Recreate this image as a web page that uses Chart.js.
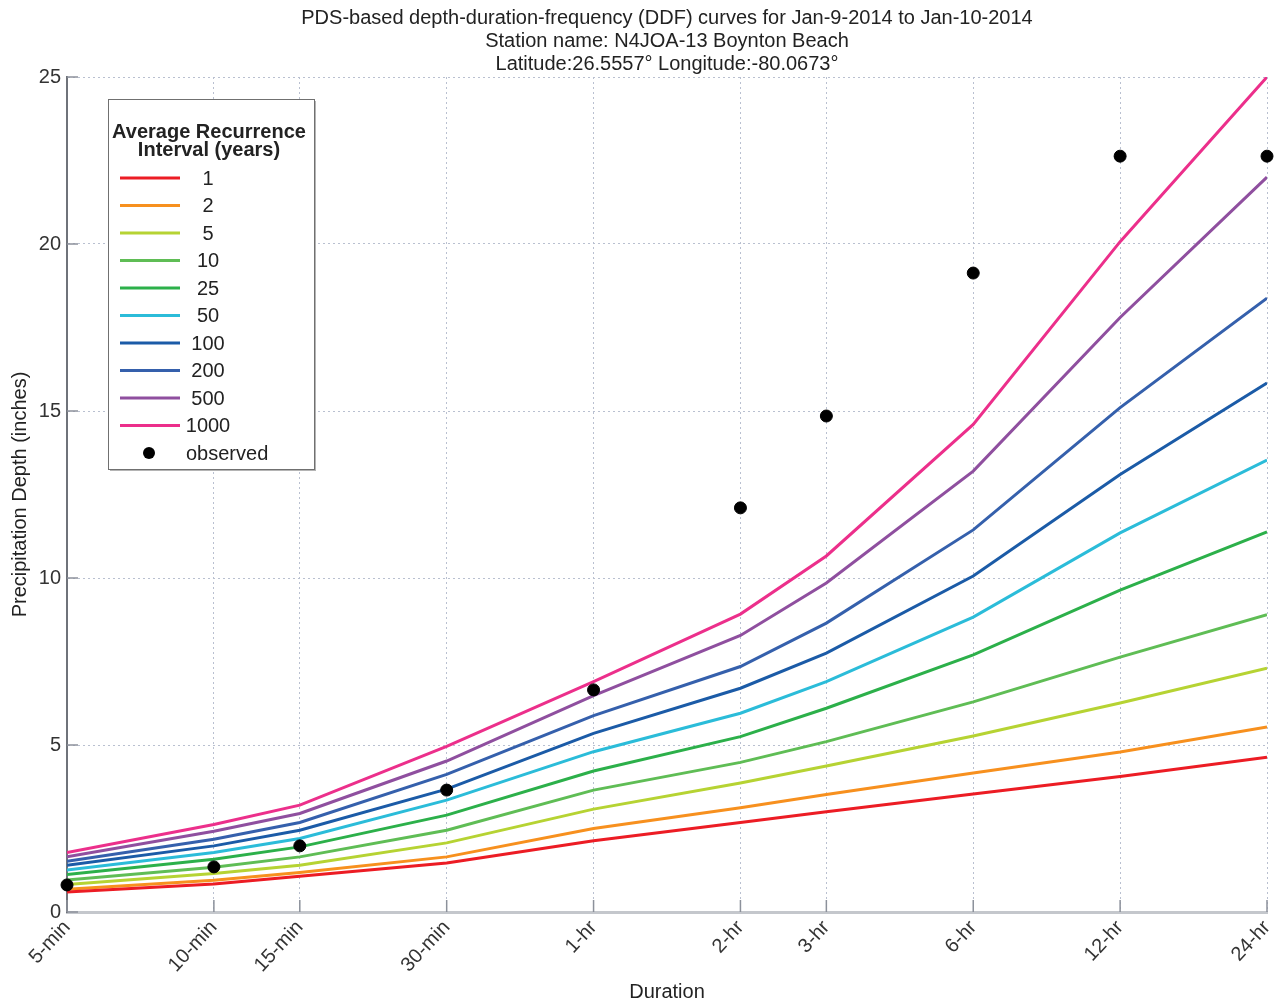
<!DOCTYPE html>
<html>
<head>
<meta charset="utf-8">
<title>DDF curves - Boynton Beach</title>
<script src="https://cdn.jsdelivr.net/npm/chart.js@4.4.1/dist/chart.umd.min.js"></script>
<style>
    html, body { margin: 0; padding: 0; background: #ffffff; }
    #contenedor { width: 1277px; height: 1004px; }
</style>
</head>
<body>
<div id="contenedor"><canvas id="ddf-grafico"></canvas></div>
<script>
// duraciones en minutos (eje X logaritmico)
const duraciones = [5, 10, 15, 30, 60, 120, 180, 360, 720, 1440];
const etiquetasDuracion = ['5-min', '10-min', '15-min', '30-min', '1-hr', '2-hr', '3-hr', '6-hr', '12-hr', '24-hr'];
const ticksProfundidad = [0, 5, 10, 15, 20, 25];

const periodos = ['1', '2', '5', '10', '25', '50', '100', '200', '500', '1000'];
const prof1    = [0.60, 0.84, 1.07, 1.47, 2.13, 2.68, 3.00, 3.53, 4.06, 4.63];
const prof2    = [0.68, 0.95, 1.18, 1.65, 2.50, 3.12, 3.52, 4.16, 4.79, 5.54];
const prof5    = [0.82, 1.15, 1.40, 2.07, 3.08, 3.86, 4.37, 5.27, 6.26, 7.30];
const prof10   = [0.96, 1.34, 1.65, 2.45, 3.65, 4.48, 5.10, 6.29, 7.63, 8.90];
const prof25   = [1.12, 1.58, 1.95, 2.90, 4.22, 5.25, 6.10, 7.70, 9.64, 11.38];
const prof50   = [1.26, 1.78, 2.20, 3.35, 4.80, 5.95, 6.90, 8.83, 11.35, 13.53];
const prof100  = [1.40, 1.98, 2.45, 3.68, 5.35, 6.70, 7.75, 10.06, 13.10, 15.84];
const prof200  = [1.52, 2.18, 2.68, 4.12, 5.88, 7.35, 8.65, 11.44, 15.10, 18.38];
const prof500  = [1.65, 2.42, 2.95, 4.52, 6.48, 8.28, 9.85, 13.20, 17.80, 22.00];
const prof1000 = [1.78, 2.62, 3.20, 4.96, 6.90, 8.92, 10.66, 14.60, 20.07, 25.00];
const observado = [0.81, 1.35, 1.98, 3.65, 6.65, 12.10, 14.85, 19.13, 22.63, 22.63];

const curvas = [prof1, prof2, prof5, prof10, prof25, prof50, prof100, prof200, prof500, prof1000];
const colores = ['#ec1c24', '#f7901e', '#b6d333', '#5fbd55', '#2cb04a', '#2bbcd9', '#1b5ba7', '#3560ac', '#8f4f9f', '#ec2f8b'];

const titulo = [
    'PDS-based depth-duration-frequency (DDF) curves for Jan-9-2014 to Jan-10-2014',
    'Station name: N4JOA-13 Boynton Beach',
    'Latitude:26.5557\u00b0 Longitude:-80.0673\u00b0'
];
const tituloLeyenda = ['Average Recurrence', 'Interval (years)'];

const fuente = '"Liberation Sans", Arial, sans-serif';
Chart.defaults.font.family = fuente;
Chart.defaults.color = '#333333';

const puntos = valores => duraciones.map((d, i) => ({ x: d, y: valores[i] }));

const datasets = curvas.map((c, i) => ({
    label: periodos[i],
    data: puntos(c),
    borderColor: colores[i],
    backgroundColor: colores[i],
    borderWidth: 3,
    pointRadius: 0,
    tension: 0
}));
datasets.push({
    label: 'observed',
    data: puntos(observado),
    showLine: false,
    pointRadius: 6,
    pointHoverRadius: 6,
    pointBackgroundColor: '#000000',
    pointBorderColor: '#000000',
    order: -1,
    clip: false
});

// marcas cortas hacia adentro en cada tick
const marcasInternas = {
    id: 'marcasInternas',
    beforeDatasetsDraw(chart) {
        const { ctx, chartArea: { left, bottom }, scales: { x, y } } = chart;
        ctx.save();
        ctx.strokeStyle = '#8c919b';
        ctx.lineWidth = 1.5;
        x.ticks.forEach(t => {
            const px = x.getPixelForValue(t.value);
            ctx.beginPath();
            ctx.moveTo(px, bottom);
            ctx.lineTo(px, bottom - 12);
            ctx.stroke();
        });
        y.ticks.forEach(t => {
            const py = y.getPixelForValue(t.value);
            ctx.beginPath();
            ctx.moveTo(left, py);
            ctx.lineTo(left + 11, py);
            ctx.stroke();
        });
        ctx.restore();
    }
};

// leyenda tipo MATLAB dentro del area del grafico
const leyenda = {
    id: 'leyenda',
    afterDatasetsDraw(chart) {
        const { ctx, chartArea } = chart;
        const x0 = chartArea.left + 41;
        const y0 = chartArea.top + 22;
        const ancho = 206, alto = 370;
        ctx.save();
        ctx.fillStyle = '#b4b4b4';
        ctx.fillRect(x0 + 2, y0 + 2, ancho, alto);
        ctx.fillStyle = '#ffffff';
        ctx.fillRect(x0, y0, ancho, alto);
        ctx.strokeStyle = '#707070';
        ctx.lineWidth = 1;
        ctx.strokeRect(x0 + 0.5, y0 + 0.5, ancho, alto);

        ctx.fillStyle = '#222222';
        ctx.textAlign = 'center';
        ctx.textBaseline = 'middle';
        ctx.font = 'bold 20px ' + fuente;
        tituloLeyenda.forEach((t, i) => ctx.fillText(t, x0 + 101, y0 + 33 + i * 18.5));

        ctx.font = '20px ' + fuente;
        chart.data.datasets.forEach((ds, i) => {
            const yy = y0 + 79 + i * 27.5;
            if (ds.showLine === false) {
                ctx.fillStyle = '#000000';
                ctx.beginPath();
                ctx.arc(x0 + 41, yy, 6, 0, Math.PI * 2);
                ctx.fill();
                ctx.fillStyle = '#222222';
                ctx.textAlign = 'left';
                ctx.fillText(ds.label, x0 + 78, yy + 1);
            } else {
                ctx.strokeStyle = ds.borderColor;
                ctx.lineWidth = 3;
                ctx.beginPath();
                ctx.moveTo(x0 + 12, yy);
                ctx.lineTo(x0 + 72, yy);
                ctx.stroke();
                ctx.fillStyle = '#222222';
                ctx.textAlign = 'center';
                ctx.fillText(ds.label, x0 + 100, yy + 1);
            }
        });
        ctx.restore();
    }
};

new Chart(document.getElementById('ddf-grafico').getContext('2d'), {
    type: 'line',
    data: { datasets: datasets },
    plugins: [marcasInternas, leyenda],
    options: {
        responsive: true,
        maintainAspectRatio: false,
        animation: false,
        layout: { padding: { left: 0, right: 10, top: 0, bottom: 0 } },
        plugins: {
            legend: { display: false },
            tooltip: { enabled: false },
            title: {
                display: true,
                text: titulo,
                fullSize: false,
                color: '#222222',
                font: { size: 20, weight: 'normal', lineHeight: '23px' },
                padding: { top: 7, bottom: 1 }
            }
        },
        scales: {
            x: {
                type: 'logarithmic',
                min: 5,
                max: 1440,
                afterBuildTicks: scale => {
                    scale.ticks = duraciones.map(v => ({ value: v }));
                },
                afterFit: scale => {
                    scale.height = 92;
                    scale.paddingLeft = 0;
                    scale.paddingRight = 0;
                },
                ticks: {
                    autoSkip: false,
                    minRotation: 47,
                    maxRotation: 47,
                    padding: 4,
                    color: '#333333',
                    font: { size: 20 },
                    callback: value => etiquetasDuracion[duraciones.indexOf(value)]
                },
                grid: {
                    color: '#b9c0d0',
                    lineWidth: 1,
                    drawTicks: false,
                    tickLength: 0
                },
                border: { display: true, color: '#c4c7cc', width: 3, dash: [2, 3] },
                title: {
                    display: true,
                    text: 'Duration',
                    color: '#222222',
                    font: { size: 20 },
                    padding: { top: 0, bottom: 0 }
                }
            },
            y: {
                min: 0,
                max: 25,
                afterBuildTicks: scale => {
                    scale.ticks = ticksProfundidad.map(v => ({ value: v }));
                },
                afterFit: scale => { scale.width = 67; },
                ticks: {
                    padding: 6,
                    color: '#333333',
                    font: { size: 20 }
                },
                grid: {
                    color: '#b9c0d0',
                    lineWidth: 1,
                    drawTicks: false,
                    tickLength: 0
                },
                border: { display: true, color: '#6f737a', width: 2, dash: [2, 3] },
                title: {
                    display: true,
                    text: 'Precipitation Depth (inches)',
                    color: '#222222',
                    font: { size: 20 },
                    padding: { top: 8, bottom: 0 }
                }
            }
        }
    }
});
</script>
</body>
</html>
